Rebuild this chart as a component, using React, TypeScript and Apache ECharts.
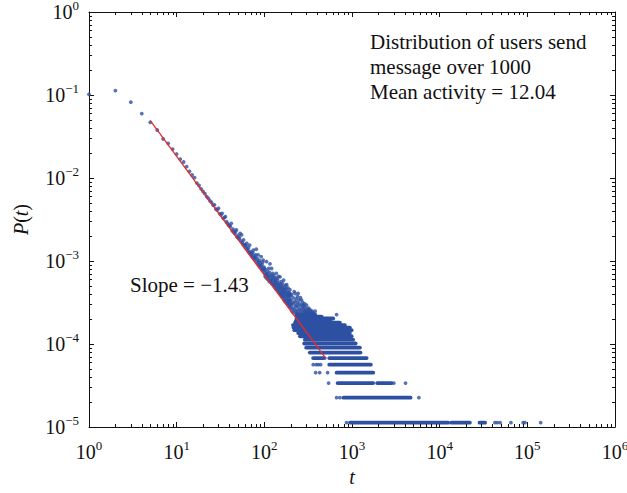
import React, { useEffect, useRef } from "react";
import * as echarts from "echarts";

// Number of users in the sample: P(t) = count / TOTAL_USERS
const TOTAL_USERS = 88700;

// [t, count] for the low-t part of the distribution
const headPoints: [number, number][] = [
  [1, 9050], [2, 10000], [3, 7270], [4, 5280], [5, 4160], [6, 3360], [7, 2620], [8, 2320],
  [9, 1980], [10, 1725], [11, 1500], [12, 1383], [13, 1214], [14, 1069], [15, 964], [16, 895],
  [17, 770], [18, 720], [19, 655], [20, 610], [21, 575], [22, 530], [23, 505], [24, 470],
  [25, 450], [26, 418], [27, 420], [28, 375], [29, 365], [30, 383], [31, 330], [32, 318],
  [33, 333], [34, 290], [35, 295], [36, 303], [37, 264], [38, 252], [39, 240], [40, 236],
];

// [t, count] for the scattered middle part
const cloudPoints: [number, number][] = [
  [41, 230], [42, 252], [43, 205], [44, 215], [45, 196], [46, 190], [47, 201], [48, 210],
  [49, 172], [50, 180], [51, 165], [52, 170], [53, 191], [54, 155], [55, 183], [56, 150],
  [57, 142], [58, 159], [59, 138], [60, 140], [61, 128], [62, 135], [63, 145], [64, 124],
  [65, 118], [66, 128], [67, 112], [68, 138], [69, 110], [70, 115], [71, 104], [72, 108],
  [73, 99], [74, 112], [75, 120], [76, 96], [77, 102], [78, 92], [79, 98], [80, 105],
  [81, 123], [82, 88], [83, 95], [84, 82], [85, 105], [86, 86], [87, 79], [88, 90],
  [89, 76], [90, 84], [91, 78], [92, 100], [93, 73], [94, 80], [95, 70], [96, 86],
  [97, 91], [98, 68], [99, 75], [100, 72],
  [101, 64], [102, 58], [103, 70], [104, 61], [105, 56], [106, 87], [107, 62], [108, 54],
  [109, 66], [110, 59], [111, 53], [112, 72], [113, 57], [114, 50], [115, 64], [116, 82],
  [117, 52], [118, 60], [119, 49], [120, 55], [121, 72], [122, 47], [123, 58], [124, 51],
  [125, 63], [126, 46], [127, 54], [128, 60], [129, 45], [130, 50], [131, 43], [132, 56],
  [133, 47], [134, 52], [135, 41], [136, 49], [137, 63], [138, 44], [139, 55], [140, 40],
  [141, 47], [142, 52], [143, 39], [144, 45], [145, 58], [146, 42], [147, 37], [148, 48],
  [149, 43], [150, 36], [151, 57], [152, 40], [153, 46], [154, 35], [155, 42], [156, 50],
  [157, 38], [158, 34], [159, 44], [160, 39], [161, 33], [162, 47], [163, 36], [164, 41],
  [165, 32], [166, 52], [167, 37], [168, 30], [169, 43], [170, 35], [171, 40], [172, 29],
  [173, 38], [174, 33], [175, 45], [176, 31], [177, 36], [178, 28], [179, 41], [180, 46],
  [181, 34], [182, 30], [183, 38], [184, 27], [185, 33], [186, 42], [187, 29], [188, 35],
  [189, 26], [190, 31], [191, 37], [192, 28], [193, 33], [194, 25], [195, 36], [196, 40],
  [197, 30], [198, 27], [199, 34], [200, 24],
  [201, 30], [203, 26], [205, 35], [207, 22], [209, 28], [211, 24], [213, 32], [215, 21],
  [217, 27], [219, 38], [221, 23], [223, 29], [225, 36], [227, 25], [229, 22], [231, 31],
  [233, 26], [235, 21], [237, 28], [239, 33], [241, 23], [243, 36], [245, 25], [247, 21],
  [249, 30], [252, 27], [255, 23], [258, 32], [261, 22], [264, 26], [266, 30], [269, 24],
  [272, 21], [275, 28], [277, 26], [280, 23], [283, 25], [286, 22], [289, 27], [292, 21],
  [295, 24], [299, 22], [303, 26], [307, 21], [311, 23], [316, 22], [320, 24], [325, 21],
  [331, 23], [338, 22], [345, 21], [352, 22], [361, 21], [380, 22],
];

// Runs of consecutive t sharing the same small count: [count, tFrom, tTo]
const countBands: [number, number, number][] = [
  [1, 950, 12500], [1, 13600, 22100], [1, 28500, 33000],
  [2, 800, 4660],
  [3, 685, 1745], [3, 1937, 2830],
  [4, 667, 1745],
  [5, 550, 1640],
  [6, 360, 470], [6, 550, 1470],
  [7, 330, 1250],
  [8, 300, 1230],
  [9, 285, 1100],
  [10, 290, 1030],
  [11, 255, 990],
  [12, 243, 945],
  [13, 220, 990],
  [14, 215, 946],
  [15, 212, 830],
  [16, 224, 728],
  [17, 230, 560],
  [18, 233, 610],
  [19, 236, 450],
  [20, 233, 380],
];

// Isolated small-count points: [count, t]
const countDots: [number, number][] = [
  [1, 867], [1, 42700], [1, 45500], [1, 49000], [1, 65000], [1, 89600], [1, 94000], [1, 142000],
  [2, 667], [2, 728], [2, 5790],
  [3, 541], [3, 3000], [3, 4080],
  [4, 385], [4, 428], [4, 527],
  [5, 361], [5, 390], [5, 412], [5, 439],
  [6, 490],
  [20, 667],
];

// Power-law fit P(t) = A * t^slope over the fitted range
const FIT_AMPLITUDE = 0.49;
const FIT_SLOPE = -1.43;
const fitT = [5, 500];

const xDecades = [0, 1, 2, 3, 4, 5, 6];
const yDecades = [-5, -4, -3, -2, -1, 0];

const annotationLines = [
  "Distribution of users send",
  "message over 1000",
  "Mean activity = 12.04",
];

const BLUE = "#2d50a3";
const RED = "#e62a2a";
const INK = "#111111";
const FONT = '"Liberation Serif", "Times New Roman", serif';
const DOT = 3.8;

const minorValues = (decades: number[]) => {
  const out: number[] = [];
  for (let i = 0; i < decades.length - 1; i++) {
    for (let k = 2; k <= 9; k++) out.push(k * Math.pow(10, decades[i]));
  }
  return out;
};

const powerLabel = (v: number) => {
  const e = Math.round(Math.log10(v));
  const exp = e < 0 ? "\u2212" + String(-e) : String(e);
  return `{b|10}{s|${exp}}`;
};

const labelRich = {
  b: { fontFamily: FONT, fontSize: 20, lineHeight: 26, color: INK },
  s: { fontFamily: FONT, fontSize: 13, lineHeight: 13, verticalAlign: "top", color: INK },
};

export default function App() {
  const ref = useRef<HTMLDivElement>(null);

  useEffect(() => {
    if (!ref.current) return;
    const chart = echarts.init(ref.current, undefined, { renderer: "svg" });

    const toP = (c: number) => c / TOTAL_USERS;
    const pointData = (pts: [number, number][]) => pts.map(([t, c]) => [t, toP(c)]);

    const baseAxis = {
      type: "log" as const,
      logBase: 10,
      axisLine: { show: true, onZero: false, lineStyle: { color: INK, width: 1 } },
      axisTick: { show: true, inside: true, length: 5, lineStyle: { color: INK, width: 1 } },
      splitLine: { show: false },
      minorTick: { show: false },
    };

    const xMinor = minorValues(xDecades);
    const yMinor = minorValues(yDecades);
    const xMin = Math.pow(10, xDecades[0]);
    const xMax = Math.pow(10, xDecades[xDecades.length - 1]);
    const yMin = Math.pow(10, yDecades[0]);
    const yMax = Math.pow(10, yDecades[yDecades.length - 1]);

    const scatterStyle = {
      type: "scatter" as const,
      symbol: "circle",
      symbolSize: DOT,
      itemStyle: { color: BLUE },
      silent: true,
      z: 2,
    };

    const slopeText = "Slope = " + FIT_SLOPE.toFixed(2).replace("-", "\u2212");

    chart.setOption({
      animation: false,
      backgroundColor: "#ffffff",
      grid: { left: 89, right: 12, top: 12, bottom: 66, containLabel: false, outerBoundsMode: "none" },
      xAxis: [
        {
          ...baseAxis,
          min: xMin,
          max: xMax,
          splitNumber: 6,
          position: "bottom",
          axisLabel: { formatter: powerLabel, rich: labelRich, margin: 12, hideOverlap: false, showMaxLabel: true, showMinLabel: true },
          name: "t",
          nameLocation: "middle",
          nameGap: 39,
          nameTextStyle: { fontFamily: FONT, fontStyle: "italic", fontSize: 20, color: INK },
        },
        {
          ...baseAxis,
          min: xMin,
          max: xMax,
          splitNumber: 6,
          position: "top",
          axisLabel: { show: false },
        },
      ],
      yAxis: [
        {
          ...baseAxis,
          min: yMin,
          max: yMax,
          splitNumber: 5,
          position: "left",
          axisLabel: { formatter: powerLabel, rich: labelRich, margin: 10, hideOverlap: false, showMaxLabel: true, showMinLabel: true },
          name: "{i|P}{n|(}{i|t}{n|)}",
          nameLocation: "middle",
          nameGap: 58,
          nameTextStyle: {
            rich: {
              i: { fontFamily: FONT, fontStyle: "italic", fontSize: 20, color: INK },
              n: { fontFamily: FONT, fontSize: 20, color: INK },
            },
          },
        },
        {
          ...baseAxis,
          min: yMin,
          max: yMax,
          splitNumber: 5,
          position: "right",
          axisLabel: { show: false },
        },
      ],
      series: [
        { ...scatterStyle, name: "head", data: pointData(headPoints) },
        { ...scatterStyle, name: "cloud", data: pointData(cloudPoints) },
        {
          ...scatterStyle,
          name: "sparse",
          data: countDots.map(([c, t]) => [t, toP(c)]),
        },
        {
          type: "custom",
          name: "bands",
          silent: true,
          z: 2,
          encode: { x: [0, 1], y: 2 },
          data: countBands.map(([c, a, b]) => [a, b, toP(c)]),
          renderItem: (_params: any, api: any) => {
            const p = api.value(2);
            const a = api.coord([api.value(0), p]);
            const b = api.coord([api.value(1), p]);
            return {
              type: "line",
              shape: { x1: a[0], y1: a[1], x2: b[0], y2: b[1] },
              style: { stroke: BLUE, lineWidth: DOT, lineCap: "round" },
            };
          },
        },
        {
          type: "line",
          name: "fit",
          silent: true,
          symbol: "none",
          z: 5,
          lineStyle: { color: RED, width: 1.3 },
          data: fitT.map((t) => [t, FIT_AMPLITUDE * Math.pow(t, FIT_SLOPE)]),
        },
        {
          type: "custom",
          name: "xMinorTicks",
          silent: true,
          z: 6,
          data: xMinor.map((v) => [v, yMin]),
          renderItem: (params: any, api: any) => {
            const cs = params.coordSys;
            const x = Math.round(api.coord([api.value(0), yMin])[0]) + 0.5;
            const bottom = cs.y + cs.height;
            const style = { stroke: INK, lineWidth: 1 };
            return {
              type: "group",
              children: [
                { type: "line", shape: { x1: x, y1: bottom, x2: x, y2: bottom - 3 }, style },
                { type: "line", shape: { x1: x, y1: cs.y, x2: x, y2: cs.y + 3 }, style },
              ],
            };
          },
        },
        {
          type: "custom",
          name: "yMinorTicks",
          silent: true,
          z: 6,
          data: yMinor.map((v) => [xMin, v]),
          renderItem: (params: any, api: any) => {
            const cs = params.coordSys;
            const y = Math.round(api.coord([xMin, api.value(1)])[1]) + 0.5;
            const right = cs.x + cs.width;
            const style = { stroke: INK, lineWidth: 1 };
            return {
              type: "group",
              children: [
                { type: "line", shape: { x1: cs.x, y1: y, x2: cs.x + 3, y2: y }, style },
                { type: "line", shape: { x1: right, y1: y, x2: right - 3, y2: y }, style },
              ],
            };
          },
        },
      ],
      graphic: [
        ...annotationLines.map((text, i) => ({
          type: "text",
          x: 370,
          y: 31 + i * 25,
          silent: true,
          style: { text, font: `21px ${FONT}`, fill: INK, verticalAlign: "top" },
        })),
        {
          type: "text",
          x: 130,
          y: 274,
          silent: true,
          style: { text: slopeText, font: `21px ${FONT}`, fill: INK, verticalAlign: "top" },
        },
      ],
    });

    return () => chart.dispose();
  }, []);

  return (
    <div
      ref={ref}
      style={{ position: "fixed", left: 0, top: 0, width: 627, height: 493, background: "#fff" }}
    />
  );
}
